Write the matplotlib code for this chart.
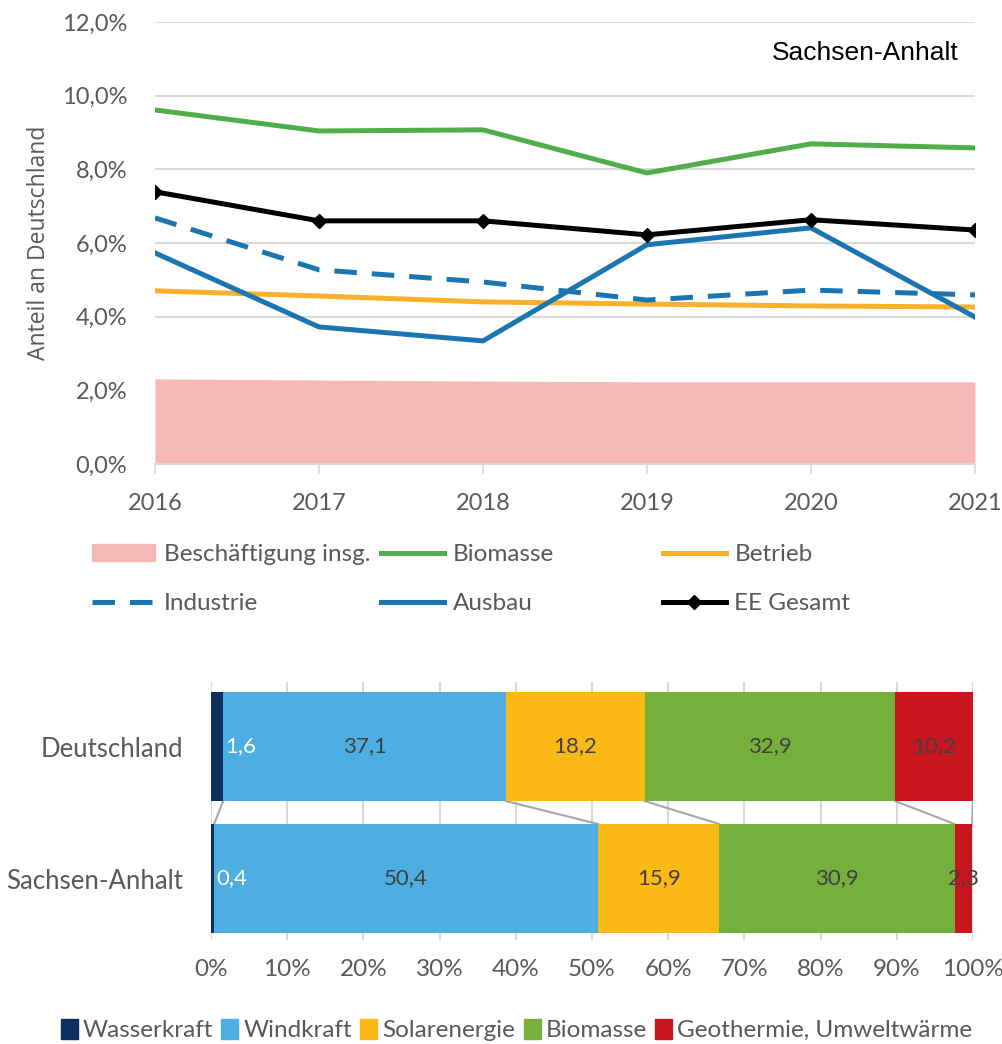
import numpy as np
import matplotlib.pyplot as plt
from matplotlib.ticker import FuncFormatter, MultipleLocator
from matplotlib.patches import Patch

plt.rcParams["font.family"] = ["Lato", "DejaVu Sans"]

# --- data: share of Sachsen-Anhalt in Germany (%) ---
years = [2016, 2017, 2018, 2019, 2020, 2021]
beschaeftigung = [2.31, 2.28, 2.25, 2.23, 2.23, 2.23]
biomasse = [9.61, 9.04, 9.07, 7.90, 8.69, 8.58]
betrieb = [4.70, 4.56, 4.40, 4.34, 4.29, 4.26]
industrie = [6.68, 5.27, 4.94, 4.45, 4.72, 4.59]
ausbau = [5.73, 3.72, 3.34, 5.95, 6.41, 3.99]
ee_gesamt = [7.39, 6.60, 6.60, 6.22, 6.63, 6.35]

# --- data: structure by technology (%) ---
regions = ["Sachsen-Anhalt", "Deutschland"]
techs = ["Wasserkraft", "Windkraft", "Solarenergie", "Biomasse",
         "Geothermie, Umweltwärme"]
share_de = [1.6, 37.1, 18.2, 32.9, 10.2]
share_st = [0.4, 50.4, 15.9, 30.9, 2.3]
tech_colors = ["#0d2f5e", "#4daee2", "#fbb918", "#76b03c", "#c8161e"]

grey = "#595959"
grid = "#d9d9d9"

fig = plt.figure(figsize=(10.03, 10.44), dpi=100)

# (a) line chart
ax = fig.add_axes([0.1545, 0.5556, 0.8175, 0.4234])
ax.set_axisbelow(True)
ax.fill_between(years, 0, beschaeftigung, color="#f4b9b5", lw=0, zorder=1)
lw = 3.6
l_bio, = ax.plot(years, biomasse, color="#4fae4a", lw=lw, zorder=3)
l_bet, = ax.plot(years, betrieb, color="#f9b12b", lw=lw, zorder=3)
l_ind, = ax.plot(years, industrie, color="#1a75b0", lw=lw, zorder=3,
                 dashes=(4.5, 3), dash_capstyle="butt")
l_aus, = ax.plot(years, ausbau, color="#1a75b0", lw=lw, zorder=3)
l_ee, = ax.plot(years, ee_gesamt, color="black", lw=lw, marker="D",
                markersize=7, zorder=4)
ax.set_xlim(2016, 2021)
ax.set_ylim(0, 12)
ax.yaxis.set_major_locator(MultipleLocator(2))
ax.yaxis.set_major_formatter(
    FuncFormatter(lambda v, _: f"{v:.1f}%".replace(".", ",")))
ax.set_xticks(years)
ax.grid(axis="y", color=grid, lw=1.5)
for s in ["top", "right", "left"]:
    ax.spines[s].set_visible(False)
ax.spines["bottom"].set_color(grid)
ax.spines["bottom"].set_linewidth(1.5)
ax.tick_params(axis="y", length=0, pad=20, labelsize=17, labelcolor=grey)
ax.tick_params(axis="x", length=7, color=grid, width=1.2, pad=14,
               labelsize=17, labelcolor=grey)
ax.set_ylabel("Anteil an Deutschland", fontsize=16.5, color=grey,
              family=["Open Sans", "DejaVu Sans"], labelpad=8)
ax.text(0.98, 0.93, "Sachsen-Anhalt", transform=ax.transAxes, ha="right",
        va="center", fontsize=19, family=["Liberation Sans", "DejaVu Sans"])

leg_kw = dict(loc="upper left", frameon=False, fontsize=17.5, handlelength=2.6,
              handletextpad=0.35, labelspacing=1.15, borderaxespad=0,
              labelcolor=grey)
cols = [
    ([Patch(color="#f4b9b5"), l_ind], ["Beschäftigung insg.", "Industrie"], 0.082),
    ([l_bio, l_aus], ["Biomasse", "Ausbau"], 0.370),
    ([l_bet, l_ee], ["Betrieb", "EE Gesamt"], 0.651),
]
for handles, labels, x in cols:
    fig.legend(handles, labels, bbox_to_anchor=(x, 0.488), **leg_kw)

# (b) stacked bars
bx = fig.add_axes([0.2104, 0.0996, 0.7596, 0.2471])
bx.set_axisbelow(True)
data = np.array([share_st, share_de])
h = 0.826
left = np.zeros(2)
for i, (t, c) in enumerate(zip(techs, tech_colors)):
    bx.barh([0, 1], data[:, i], left=left, height=h, color=c, label=t,
            zorder=2)
    for r in range(2):
        v = data[r, i]
        txt = f"{v:.1f}".replace(".", ",")
        if i == 0:
            bx.text(left[r] + v + 0.3, r, txt, ha="left", va="center",
                    fontsize=16, color="white", zorder=3)
        else:
            bx.text(left[r] + v / 2, r, txt, ha="center", va="center",
                    fontsize=16, color="#404040", zorder=3)
    left += data[:, i]

# connector lines between the bars
cum_de = np.cumsum(share_de)
cum_st = np.cumsum(share_st)
for a, b in zip(cum_de, cum_st):
    bx.plot([a, b], [1 - h / 2, h / 2], color="#a6a6a6", lw=1.5, zorder=1)

bx.set_xlim(0, 100)
bx.set_ylim(-0.466, 1.489)
bx.set_yticks([0, 1])
bx.set_yticklabels(regions)
bx.xaxis.set_major_locator(MultipleLocator(10))
bx.xaxis.set_major_formatter(FuncFormatter(lambda v, _: f"{v:.0f}%"))
bx.grid(axis="x", color=grid, lw=1.5)
for s in bx.spines.values():
    s.set_visible(False)
bx.tick_params(axis="y", length=0, pad=20, labelsize=18.5, labelcolor=grey)
bx.tick_params(axis="x", length=0, pad=14, labelsize=17.5, labelcolor=grey)

fig.legend(handles=[Patch(color=c) for c in tech_colors], labels=techs,
           loc="center", bbox_to_anchor=(0.515, 0.0135), ncol=5, frameon=False,
           fontsize=17.5, handlelength=0.7, handleheight=0.9, handletextpad=0.2,
           columnspacing=0.35, labelcolor=grey, borderaxespad=0)

fig.savefig("out.png", dpi=100)
